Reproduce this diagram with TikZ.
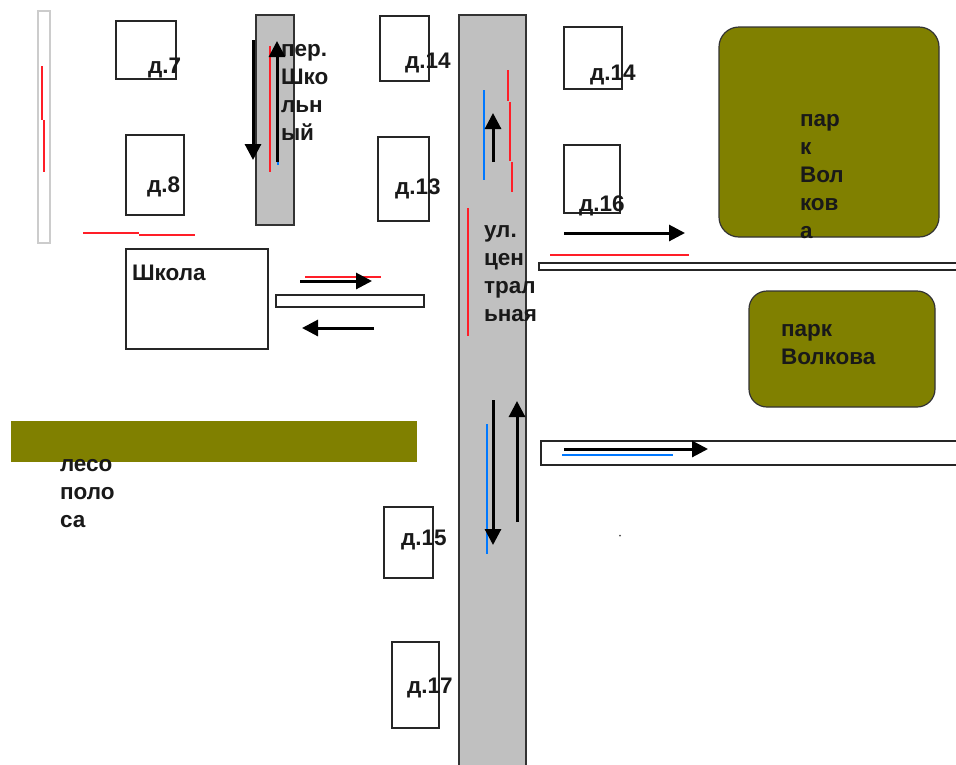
\documentclass[tikz,border=0pt]{standalone}
\usepackage{fontspec}
\setmainfont{Liberation Sans}
\usetikzlibrary{arrows.meta}
\definecolor{park}{RGB}{128,128,0}
\definecolor{road}{RGB}{192,192,192}
\definecolor{redline}{RGB}{255,30,40}
\definecolor{blueline}{RGB}{0,120,255}
\tikzset{
  x=1pt,y=-1pt,
  box/.style={draw=black!85,line width=2pt,fill=white},
  roadbox/.style={draw=black!80,line width=2pt,fill=road},
  parkbox/.style={draw=black!80,line width=1.2pt,fill=park},
  flow/.style={line width=3pt,black,-{Triangle[width=16pt,length=16pt]}},
  redl/.style={redline,line width=2pt},
  bluel/.style={blueline,line width=2pt},
  lab/.style={anchor=base west,inner sep=0pt,outer sep=0pt,align=left,font=\fontsize{22.5}{28}\selectfont\bfseries,text=black!90}
}
\begin{document}
\begin{tikzpicture}
\useasboundingbox (0,0) rectangle (956,764);
\fill[white] (0,0) rectangle (956,764);
% roads
\draw[roadbox] (459,15) rectangle (526,770);
\draw[roadbox] (256,15) rectangle (294,225);
\draw[draw=black!20,line width=2pt,fill=white] (38,11) rectangle (50,243);
\draw[box] (276,295) rectangle (424,307);
\draw[box] (538.5,263) rectangle (960,270);
\draw[box] (541,441) rectangle (960,465);
% houses
\draw[box] (116,21) rectangle (176,79);
\draw[box] (126,135) rectangle (184,215);
\draw[box] (126,249) rectangle (268,349);
\draw[box] (380,16) rectangle (429,81);
\draw[box] (378,137) rectangle (429,221);
\draw[box] (564,27) rectangle (622,89);
\draw[box] (564,145) rectangle (620,213);
\draw[box] (384,507) rectangle (433,578);
\draw[box] (392,642) rectangle (439,728);
% green areas
\draw[parkbox,rounded corners=20pt] (719,27) rectangle (939,237);
\draw[parkbox,rounded corners=18pt] (749,291) rectangle (935,407);
\fill[park] (11,421) rectangle (417,462);
% red marks
\draw[redl] (41.5,66) -- (41.5,119.5);
\draw[redl] (43.5,120) -- (43.5,172);
\draw[redl] (83,233) -- (139,233);
\draw[redl] (139,235) -- (195,235);
\draw[redl] (270,46) -- (270,172);
\draw[redl] (305,277) -- (381,277);
\draw[redl] (508,70) -- (508,101);
\draw[redl] (510,102) -- (510,161);
\draw[redl] (512,162) -- (512,192);
\draw[redl] (468,208) -- (468,336);
\draw[redl] (550,255) -- (689,255);
% blue marks
\draw[bluel] (278,86) -- (278,165);
\draw[bluel] (484,90) -- (484,180);
\draw[bluel] (486.5,424) -- (486.5,554);
\draw[bluel] (562,455) -- (673,455);
% text
\node[lab] (t7) at (148,73) {д.7};
\node[lab] (t8) at (147,192) {д.8};
\node[lab] (t14a) at (405,68) {д.14};
\node[lab] (t13) at (395,194) {д.13};
\node[lab] (t14b) at (590,80) {д.14};
\node[lab] (t16) at (579,211) {д.16};
\node[lab] (t15) at (401,545) {д.15};
\node[lab] (t17) at (407,693) {д.17};
\node[lab] (school) at (132,280) {Школа};
\node[lab,anchor=north west] (lane) at (281,44) {пер.\\Шко\\льн\\ый};
\node[lab,anchor=north west] (street) at (484,226) {ул.\\цен\\трал\\ьная};
\node[lab,anchor=north west] (parka) at (800,114) {пар\\к\\Вол\\ков\\а};
\node[lab,anchor=north west] (parkb) at (781,324) {парк\\Волкова};
\node[lab,anchor=north west] (forest) at (60,459) {лесо\\поло\\са};
% arrows
\draw[flow] (253,40) -- (253,160);
\draw[flow] (277,162) -- (277,41);
\draw[flow] (300,281) -- (372,281);
\draw[flow] (374,328) -- (302,328);
\draw[flow] (493,162) -- (493,113);
\draw[flow] (564,233) -- (685,233);
\draw[flow] (493,400) -- (493,545);
\draw[flow] (517,522) -- (517,401);
\draw[flow] (564,449) -- (708,449);
\fill[black!70] (620,535.5) circle (1);
\end{tikzpicture}
\end{document}
